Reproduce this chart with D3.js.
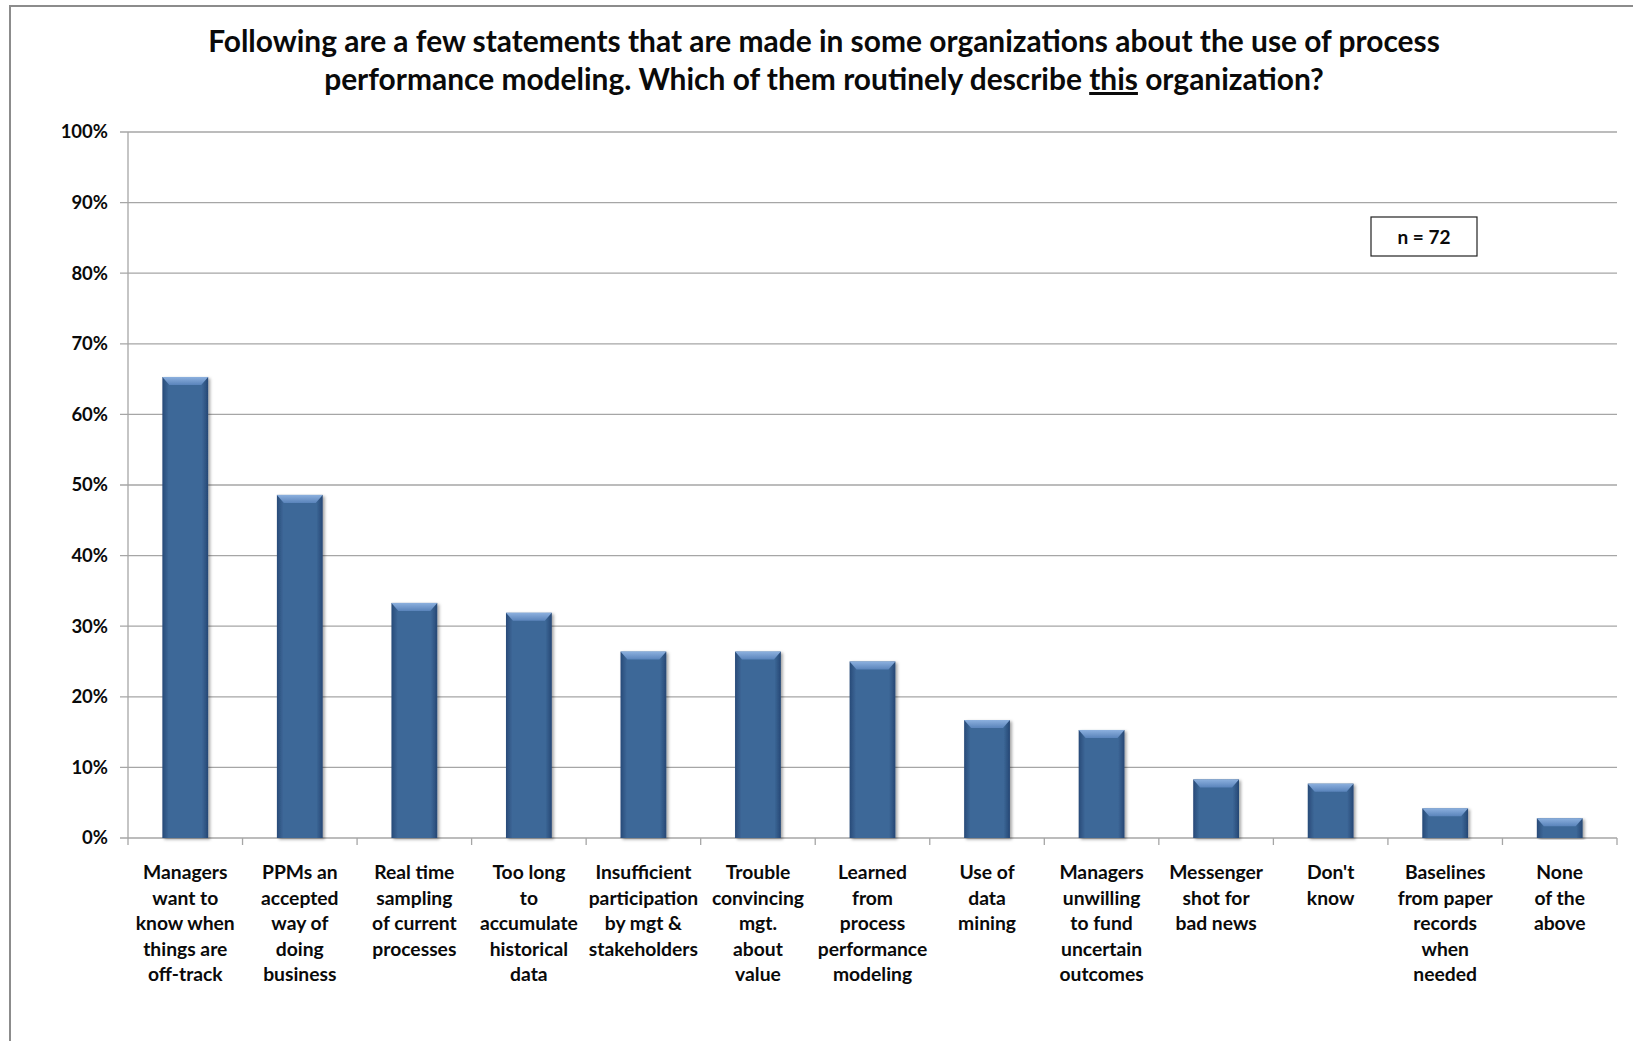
<!DOCTYPE html>
<html>
<head>
<meta charset="utf-8">
<script src="https://cdn.jsdelivr.net/npm/d3@7"></script>
<style>
  body { margin: 0; background: #fff; }
  svg { display: block; }
  text { font-family: Lato, "Open Sans", sans-serif; fill: #0a0a0a; }
</style>
</head>
<body>
<svg id="chart"></svg>
<script>
const titleLines = [
  "Following are a few statements that are made in some organizations about the use of process",
  ["performance modeling. Which of them routinely describe ", "this", " organization?"]
];

const categories = [
  "Managers\nwant to\nknow when\nthings are\noff-track",
  "PPMs an\naccepted\nway of\ndoing\nbusiness",
  "Real time\nsampling\nof current\nprocesses",
  "Too long\nto\naccumulate\nhistorical\ndata",
  "Insufficient\nparticipation\nby mgt &\nstakeholders",
  "Trouble\nconvincing\nmgt.\nabout\nvalue",
  "Learned\nfrom\nprocess\nperformance\nmodeling",
  "Use of\ndata\nmining",
  "Managers\nunwilling\nto fund\nuncertain\noutcomes",
  "Messenger\nshot for\nbad news",
  "Don't\nknow",
  "Baselines\nfrom paper\nrecords\nwhen\nneeded",
  "None\nof the\nabove"
];

const values = [0.653, 0.486, 0.333, 0.319, 0.264, 0.264, 0.25, 0.167, 0.153, 0.083, 0.077, 0.042, 0.028];

const yTicks = [0, 0.1, 0.2, 0.3, 0.4, 0.5, 0.6, 0.7, 0.8, 0.9, 1];

const sampleNote = "n = 72";

const width = 1633, height = 1041;
const plotLeft = 128, plotRight = 1617, plotTop = 132, plotBottom = 838;

const svg = d3.select("#chart").attr("width", width).attr("height", height);

// gradients for the bevelled bars
const defs = svg.append("defs");
const body = defs.append("linearGradient").attr("id", "barBody");
body.append("stop").attr("offset", "0%").attr("stop-color", "#284a78");
body.append("stop").attr("offset", "14%").attr("stop-color", "#3d6898");
body.append("stop").attr("offset", "86%").attr("stop-color", "#3d6898");
body.append("stop").attr("offset", "100%").attr("stop-color", "#264774");
const cap = defs.append("linearGradient").attr("id", "barCap")
  .attr("x1", 0).attr("y1", 0).attr("x2", 0).attr("y2", 1);
cap.append("stop").attr("offset", "0%").attr("stop-color", "#8cb0de");
cap.append("stop").attr("offset", "100%").attr("stop-color", "#5a84bb");
const shadow = defs.append("filter").attr("id", "shadow")
  .attr("x", "-20%").attr("y", "-5%").attr("width", "150%").attr("height", "115%");
shadow.append("feDropShadow").attr("dx", 2).attr("dy", 1.5)
  .attr("stdDeviation", 1.5).attr("flood-color", "#000").attr("flood-opacity", 0.35);

// outer frame
svg.append("rect")
  .attr("x", 10).attr("y", 6).attr("width", 1660).attr("height", 1080)
  .attr("fill", "none").attr("stroke", "#8c8c8c").attr("stroke-width", 2);

const x = d3.scaleBand().domain(categories).range([plotLeft, plotRight]);
const xBar = d3.scaleBand().domain(categories).range([plotLeft, plotRight])
  .paddingInner(0.6).paddingOuter(0.3);
const y = d3.scaleLinear().domain([0, 1]).range([plotBottom, plotTop]);

// gridlines
svg.append("g")
  .selectAll("line")
  .data(yTicks)
  .enter()
  .append("line")
  .attr("x1", plotLeft - 8)
  .attr("x2", plotRight)
  .attr("y1", d => y(d))
  .attr("y2", d => y(d))
  .attr("stroke", "#a6a6a6")
  .attr("stroke-width", 1.3);

svg.append("line")
  .attr("x1", plotLeft).attr("x2", plotLeft).attr("y1", plotTop).attr("y2", plotBottom)
  .attr("stroke", "#a6a6a6").attr("stroke-width", 1.3);

// y labels
svg.append("g")
  .selectAll("text")
  .data(yTicks)
  .enter()
  .append("text")
  .attr("x", 108)
  .attr("y", d => y(d))
  .attr("dy", "0.35em")
  .attr("text-anchor", "end")
  .attr("font-size", 18.5)
  .attr("font-weight", "bold")
  .text(d3.format(".0%"));

// x ticks at the category edges
svg.append("g")
  .selectAll("line")
  .data(categories.map(c => x(c)).concat([plotRight]))
  .enter()
  .append("line")
  .attr("x1", d => d)
  .attr("x2", d => d)
  .attr("y1", plotBottom)
  .attr("y2", plotBottom + 7)
  .attr("stroke", "#a6a6a6")
  .attr("stroke-width", 1.3);

// bars
const bars = svg.append("g")
  .selectAll("g")
  .data(values)
  .enter()
  .append("g")
  .attr("filter", "url(#shadow)");

bars.append("rect")
  .attr("x", (_, i) => xBar(categories[i]))
  .attr("y", d => y(d))
  .attr("width", xBar.bandwidth())
  .attr("height", d => y(0) - y(d))
  .attr("fill", "url(#barBody)");

bars.append("path")
  .attr("d", (d, i) => {
    const x0 = xBar(categories[i]), x1 = x0 + xBar.bandwidth(), t = y(d);
    return `M${x0},${t}L${x1},${t}L${x1 - 7},${t + 8}L${x0 + 7},${t + 8}Z`;
  })
  .attr("fill", "url(#barCap)");

// category labels
const labels = svg.append("g")
  .selectAll("text")
  .data(categories)
  .enter()
  .append("text")
  .attr("text-anchor", "middle")
  .attr("font-size", 19.3)
  .attr("font-weight", "bold")
  .attr("y", 879);

labels.selectAll("tspan")
  .data(d => d.split("\n").map(line => ({ line, cat: d })))
  .enter()
  .append("tspan")
  .attr("x", d => x(d.cat) + x.bandwidth() / 2)
  .attr("dy", (_, i) => i === 0 ? 0 : 25.6)
  .text(d => d.line);

// title
const title = svg.append("g").attr("font-weight", "bold").attr("font-size", 26);
const t1 = title.append("text")
  .attr("x", 824).attr("y", 52).attr("text-anchor", "middle")
  .text(titleLines[0]);
const t2 = title.append("text")
  .attr("x", 824).attr("y", 90).attr("text-anchor", "middle");
t2.selectAll("tspan")
  .data(titleLines[1])
  .enter()
  .append("tspan")
  .attr("text-decoration", (_, i) => i === 1 ? "underline" : null)
  .text(d => d);

// fit the title to the width it has in the original
const w1 = t1.node().getComputedTextLength();
title.attr("font-size", 26 * 1232 / w1);

// n box
svg.append("rect")
  .attr("x", 1371).attr("y", 217).attr("width", 106).attr("height", 39)
  .attr("fill", "#fff").attr("stroke", "#222").attr("stroke-width", 1.2);
svg.append("text")
  .attr("x", 1424).attr("y", 237).attr("dy", "0.35em")
  .attr("text-anchor", "middle")
  .attr("font-size", 19)
  .attr("font-weight", "bold")
  .text(sampleNote);
</script>
</body>
</html>
